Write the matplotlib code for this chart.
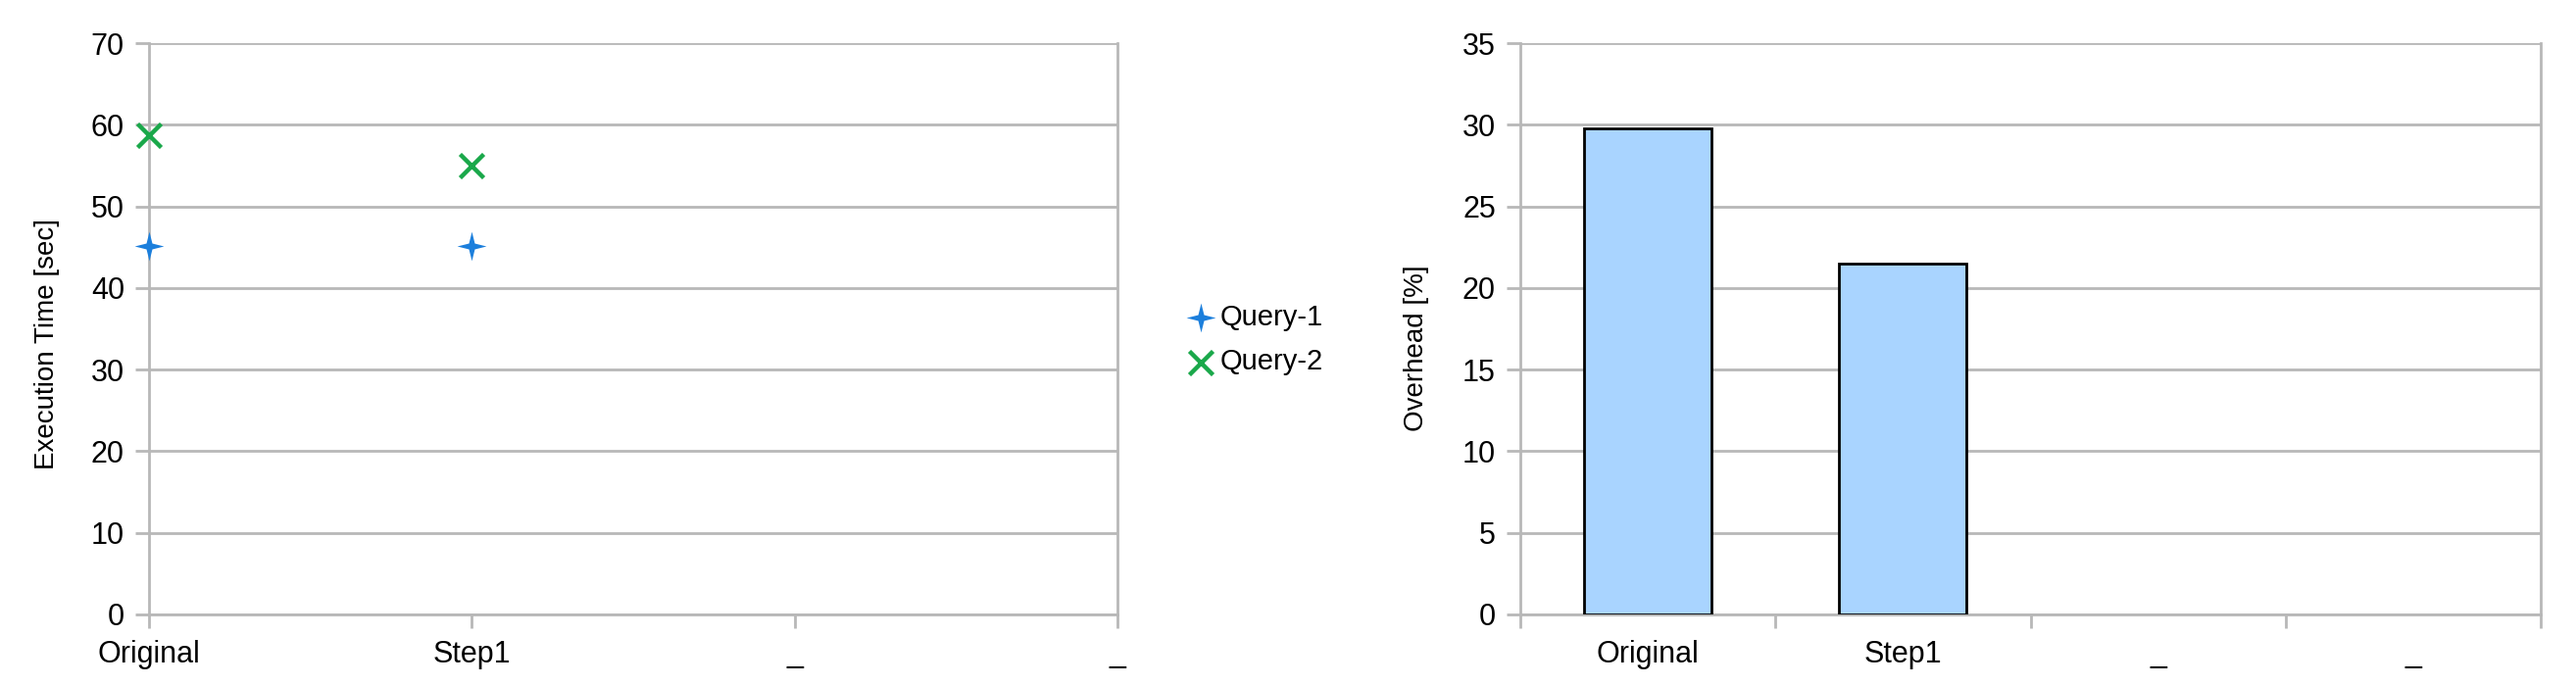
import numpy as np
import matplotlib
matplotlib.use("Agg")
import matplotlib.pyplot as plt
from matplotlib.path import Path

plt.rcParams['font.family'] = ['Liberation Sans', 'DejaVu Sans']

categories = ['Original', 'Step1', '_', '_']
query1 = [45.2, 45.2]
query2 = [58.7, 55.0]
overhead = [29.8, 21.5]

grid_col = '#b8b8b8'
blue = '#1c7fdc'
green = '#1aa84a'
bar_col = '#a9d4ff'

# four pointed star marker
star = Path([(0, 1), (0.2, 0.2), (1, 0), (0.2, -0.2), (0, -1),
             (-0.2, -0.2), (-1, 0), (-0.2, 0.2), (0, 1)],
            [Path.MOVETO] + [Path.LINETO] * 7 + [Path.CLOSEPOLY])

fig = plt.figure(figsize=(26.28, 7), dpi=100)
ax1 = fig.add_axes([152 / 2628, 73 / 700, 988 / 2628, 583 / 700])
ax2 = fig.add_axes([1551 / 2628, 73 / 700, 1041 / 2628, 583 / 700])


def style(ax):
    ax.spines['top'].set_visible(False)
    for s in ['left', 'right', 'bottom']:
        ax.spines[s].set_color(grid_col)
        ax.spines[s].set_linewidth(2)
    ax.yaxis.grid(True, color=grid_col, linewidth=2)
    ax.set_axisbelow(True)
    ax.tick_params(axis='both', which='major', length=10, width=2, color=grid_col,
                   labelsize=22)
    ax.tick_params(axis='y', pad=8)
    ax.tick_params(axis='x', pad=9)


# left: execution time
x = np.arange(len(query1))
ax1.scatter(x, query1, marker=star, s=460, color=blue, linewidths=0, zorder=3,
            clip_on=False, label='Query-1')
ax1.scatter(x, query2, marker='x', s=300, color=green, linewidths=3.2, zorder=3,
            clip_on=False, label='Query-2')
ax1.set_xlim(0, len(categories) - 1)
ax1.set_ylim(0, 70)
ax1.set_yticks(range(0, 71, 10))
ax1.set_xticks(range(len(categories)))
ax1.set_xticklabels(categories)
style(ax1)
ax1.set_ylabel('Execution Time [sec]', fontsize=20)
ax1.yaxis.set_label_coords(-0.092, 0.473)
ax1.legend(loc='center left', bbox_to_anchor=(1.054, 0.481), frameon=False, fontsize=21,
           handletextpad=0.05, labelspacing=0.6, borderpad=0, handlelength=1.2)

# right: overhead
xb = np.arange(len(overhead))
ax2.bar(xb, overhead, width=0.5, color=bar_col, edgecolor='black', linewidth=2, zorder=3)
ax2.set_xlim(-0.5, len(categories) - 0.5)
ax2.set_ylim(0, 35)
ax2.set_yticks(range(0, 36, 5))
ax2.set_xticks(np.arange(len(categories) + 1) - 0.5)
ax2.set_xticklabels([])
ax2.set_xticks(np.arange(len(categories)), minor=True)
ax2.set_xticklabels(categories, minor=True)
style(ax2)
ax2.tick_params(axis='x', which='minor', length=0, labelsize=22, pad=19)
ax2.set_ylabel('Overhead [%]', fontsize=20)
ax2.yaxis.set_label_coords(-0.089, 0.466)

fig.savefig('out.png', dpi=100)
